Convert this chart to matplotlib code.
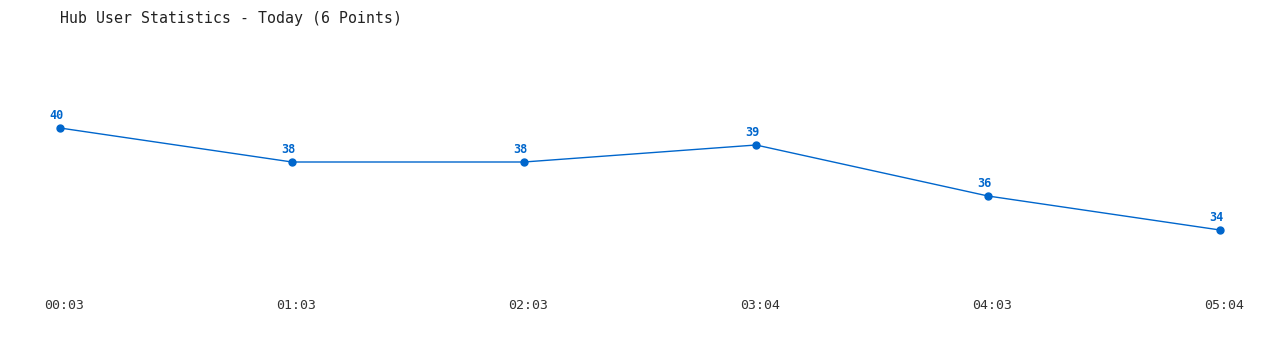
import matplotlib
matplotlib.use('Agg')
import matplotlib.pyplot as plt
from matplotlib.transforms import ScaledTranslation

# data
times = ['00:03', '01:03', '02:03', '03:04', '04:03', '05:04']
users = [40, 38, 38, 39, 36, 34]
title = 'Hub User Statistics - Today (6 Points)'

blue = '#0066cc'
mono = ['DejaVu Sans Mono']

fig = plt.figure(figsize=(12.8, 3.5), dpi=100)
ax = fig.add_axes([60/1280, 86/350, 1160/1280, 170/350])

x = list(range(len(times)))
ax.plot(x, users, color=blue, lw=1, marker='o', ms=5, clip_on=False)
for xi, v in zip(x, users):
    ax.annotate(str(v), (xi, v), xytext=(-2.5, 4.5), textcoords='offset points',
                ha='center', va='bottom', color=blue, fontsize=8.5,
                fontweight='bold', family=mono)

ax.set_xlim(0, len(times) - 1)
ax.set_ylim(32, 42)
ax.set_xticks(x)
ax.set_xticklabels(times, family=mono, fontsize=9.5, color='#333333')
ax.tick_params(axis='x', length=0, pad=25)
# labels sit a little right of their points in the original
shift = ScaledTranslation(4.5/100, 0, fig.dpi_scale_trans)
for lbl in ax.get_xticklabels():
    lbl.set_transform(lbl.get_transform() + shift)
ax.set_yticks([])
for s in ax.spines.values():
    s.set_visible(False)

fig.text(60/1280, 1 - 18/350, title, ha='left', va='center',
         family=mono, fontsize=10.7, color='#222222')

fig.savefig('out.png', dpi=100)
